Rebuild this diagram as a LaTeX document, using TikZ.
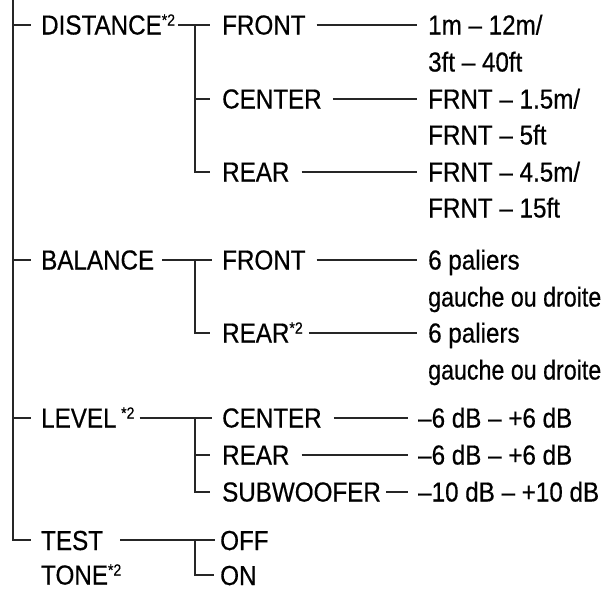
\documentclass[tikz,border=0pt]{standalone}
\usepackage{fontspec}
\setmainfont[FakeStretch=0.88,FakeBold=0.5]{Liberation Sans}
\newfontfamily\narrowfont[FakeStretch=0.845,FakeBold=0.5]{Liberation Sans}
\newcommand{\supmark}{{\fontsize{16}{16}\selectfont\raisebox{9pt}{*2}}}
\begin{document}
\begin{tikzpicture}[x=1pt,y=-1pt,
  lbl/.style={inner sep=0pt, anchor=base west, text height=19.6pt, text depth=0pt, font=\fontsize{27.5}{30}\selectfont},
  narrow/.style={lbl, font=\narrowfont\fontsize{27.5}{30}\selectfont},
  conn/.style={line width=1.8pt, draw=black!85}]
\useasboundingbox[fill=white] (0,0) rectangle (606,590);
% level 1
\node[lbl] (dist) at (41,34.5) {DISTANCE\supmark};
\node[lbl] (bal) at (41,269.5) {BALANCE};
\node[lbl] (lev) at (41,427.5) {LEVEL\,\supmark};
\node[lbl] (test) at (41,550) {TEST};
\node[lbl] (tone) at (41,584.5) {TONE\supmark};
% level 2
\node[lbl] (dfront) at (222,34.5) {FRONT};
\node[lbl] (dcenter) at (222,108.5) {CENTER};
\node[lbl] (drear) at (222,181.5) {REAR};
\node[lbl] (bfront) at (222,269.5) {FRONT};
\node[lbl] (brear) at (222,342.5) {REAR\supmark};
\node[lbl] (lcenter) at (222,427.5) {CENTER};
\node[lbl] (lrear) at (222,464.5) {REAR};
\node[lbl] (lsub) at (222,501.5) {SUBWOOFER};
\node[lbl] (off) at (220,550) {OFF};
\node[lbl] (on) at (220,585) {ON};
% values
\node[lbl] (v1a) at (428,34.5) {1m – 12m/};
\node[lbl] (v1b) at (428,71.5) {3ft – 40ft};
\node[lbl] (v2a) at (428,108.5) {FRNT – 1.5m/};
\node[lbl] (v2b) at (428,144.5) {FRNT – 5ft};
\node[lbl] (v3a) at (428,181.5) {FRNT – 4.5m/};
\node[lbl] (v3b) at (428,217.5) {FRNT – 15ft};
\node[lbl] (v4a) at (428,269.5) {6 paliers};
\node[narrow] (v4b) at (428,306.5) {gauche ou droite};
\node[lbl] (v5a) at (428,342.5) {6 paliers};
\node[narrow] (v5b) at (428,379.5) {gauche ou droite};
\node[lbl] (v6) at (418,427.5) {–6 dB – +6 dB};
\node[lbl] (v7) at (418,464.5) {–6 dB – +6 dB};
\node[lbl] (v8) at (418,501.5) {–10 dB – +10 dB};
% trunk
\coordinate (top) at (13,0);
\draw[conn] (top) |- ([xshift=-10pt]test.west);
\foreach \n in {dist,bal,lev}
  \draw[conn] ([xshift=-28pt]\n.west) -- ([xshift=-10pt]\n.west);
% distance
\draw[conn] ([xshift=3pt]dist.east) -- ([xshift=-12pt]dfront.west);
\draw[conn] ([xshift=-27pt]dfront.west) |- ([xshift=-12pt]drear.west);
\draw[conn] ([xshift=-27pt]dcenter.west) -- ([xshift=-12pt]dcenter.west);
\draw[conn] ([xshift=11pt]dfront.east) -- ([xshift=-11pt]v1a.west);
\draw[conn] ([xshift=11pt]dcenter.east) -- ([xshift=-11pt]v2a.west);
\draw[conn] ([xshift=12pt]drear.east) -- ([xshift=-11pt]v3a.west);
% balance
\draw[conn] ([xshift=8pt]bal.east) -- ([xshift=-10pt]bfront.west);
\draw[conn] ([xshift=-27pt]bfront.west) |- ([xshift=-12pt]brear.west);
\draw[conn] ([xshift=11pt]bfront.east) -- ([xshift=-11pt]v4a.west);
\draw[conn] ([xshift=6pt]brear.east) -- ([xshift=-11pt]v5a.west);
% level
\draw[conn] ([xshift=5pt]lev.east) -- ([xshift=-10pt]lcenter.west);
\draw[conn] ([xshift=-27pt]lcenter.west) |- ([xshift=-12pt]lsub.west);
\draw[conn] ([xshift=-27pt]lrear.west) -- ([xshift=-12pt]lrear.west);
\draw[conn] ([xshift=12pt]lcenter.east) -- ([xshift=-10pt]v6.west);
\draw[conn] ([xshift=12pt]lrear.east) -- ([xshift=-10pt]v7.west);
\draw[conn] ([xshift=5pt]lsub.east) -- ([xshift=-10pt]v8.west);
% test tone
\draw[conn] ([xshift=17pt]test.east) -- ([xshift=-5pt]off.west);
\draw[conn] ([xshift=-25pt]off.west) |- ([xshift=-6pt]on.west);
\end{tikzpicture}
\end{document}
